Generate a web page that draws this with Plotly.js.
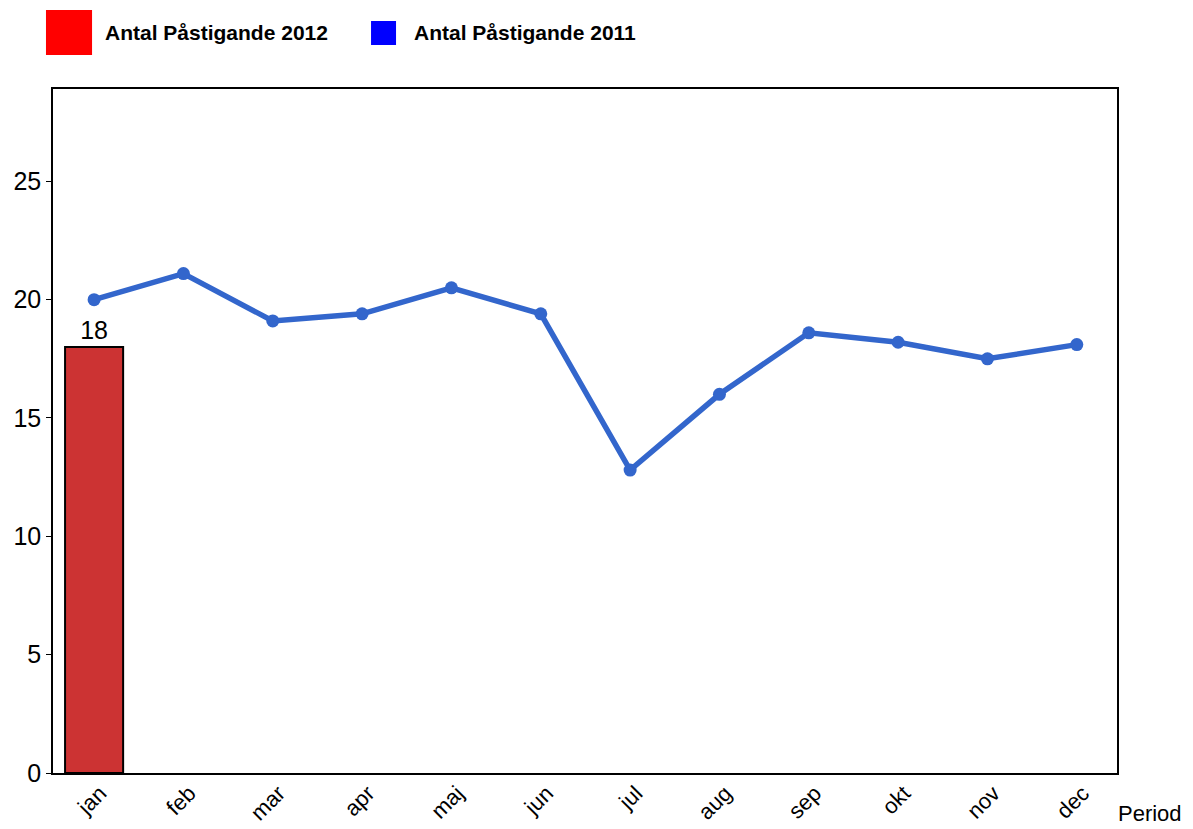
<!DOCTYPE html>
<html>
<head>
<meta charset="utf-8">
<script src="https://cdn.plot.ly/plotly-3.0.1.min.js"></script>
<style>html,body{margin:0;padding:0;background:#fff;}#chart{width:1193px;height:829px;}</style>
</head>
<body>
<div id="chart"></div>
<script>
var months = ["jan","feb","mar","apr","maj","jun","jul","aug","sep","okt","nov","dec"];
var bars2012Months = ["jan"];
var values2012 = [18];
var values2011 = [20.0, 21.1, 19.1, 19.4, 20.5, 19.4, 12.8, 16.0, 18.6, 18.2, 17.5, 18.1];
var seriesNames = ["Antal Påstigande 2012", "Antal Påstigande 2011"];
var xAxisTitle = "Period";

var font = "Liberation Sans, Arial, sans-serif";

var traces = [
  {
    type: "bar",
    name: seriesNames[0],
    x: bars2012Months,
    y: values2012,
    width: 0.65,
    marker: {color: "#CC3333", line: {color: "#000000", width: 2}},
    text: values2012.map(String),
    textposition: "outside",
    textfont: {family: font, size: 25, color: "#000"},
    cliponaxis: false,
    hoverinfo: "x+y"
  },
  {
    type: "scatter",
    mode: "lines+markers",
    name: seriesNames[1],
    x: months,
    y: values2011,
    line: {color: "#3366CC", width: 5.5},
    marker: {color: "#3366CC", size: 13}
  }
];

var layout = {
  width: 1193,
  height: 829,
  margin: {l: 53, r: 76, t: 89, b: 56},
  paper_bgcolor: "#fff",
  plot_bgcolor: "#fff",
  showlegend: false,
  font: {family: font, color: "#000"},
  xaxis: {
    type: "category",
    categoryorder: "array",
    categoryarray: months,
    range: [-0.46, 11.45],
    showgrid: false,
    zeroline: false,
    showline: true,
    mirror: true,
    linecolor: "#000",
    linewidth: 1.5,
    ticks: "",
    tickangle: -45,
    ticklabelshift: 6,
    ticklabelstandoff: -3,
    tickfont: {family: font, size: 22, color: "#000"}
  },
  yaxis: {
    range: [0, 28.9],
    tickvals: [0, 5, 10, 15, 20, 25],
    showgrid: false,
    zeroline: false,
    showline: true,
    mirror: true,
    linecolor: "#000",
    linewidth: 1.5,
    ticks: "outside",
    ticklen: 5,
    tickcolor: "#000",
    tickfont: {family: font, size: 25, color: "#000"}
  },
  shapes: [
    {type: "rect", xref: "paper", yref: "paper", x0: -0.0066, x1: 0.0367, y0: 1.0497, y1: 1.1155, fillcolor: "#FF0000", line: {width: 0}},
    {type: "rect", xref: "paper", yref: "paper", x0: 0.2989, x1: 0.3224, y0: 1.0643, y1: 1.0994, fillcolor: "#0000FF", line: {width: 0}}
  ],
  annotations: [
    {xref: "paper", yref: "paper", x: 0.047, y: 1.0819, xanchor: "left", yanchor: "middle", text: "<b>" + seriesNames[0] + "</b>", showarrow: false, font: {family: font, size: 21, color: "#000"}},
    {xref: "paper", yref: "paper", x: 0.3374, y: 1.0819, xanchor: "left", yanchor: "middle", text: "<b>" + seriesNames[1] + "</b>", showarrow: false, font: {family: font, size: 21, color: "#000"}},
    {xref: "paper", yref: "paper", x: 0.9995, y: -0.0585, xanchor: "left", yanchor: "middle", text: xAxisTitle, showarrow: false, font: {family: font, size: 22, color: "#000"}}
  ]
};

Plotly.newPlot("chart", traces, layout, {displayModeBar: false, responsive: false});
</script>
</body>
</html>
